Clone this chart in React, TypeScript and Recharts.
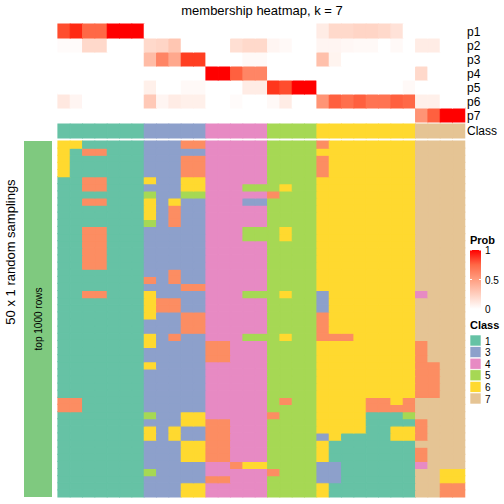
import { BarChart, Bar, XAxis, YAxis, Cell } from 'recharts';

// sample columns of the membership matrix
const samples = Array.from({ length: 33 }, (_, i) => `s${i + 1}`);

// consensus class of each sample (column)
const sampleClass = '1111111 33333 44444 5555 66666666 7777'.replace(/ /g, '');

// membership probabilities, one list per row
const p1 = [0.85, 0.95, 0.75, 0.75, 1, 1, 1, 0, 0, 0, 0, 0, 0, 0, 0, 0, 0, 0, 0, 0, 0, 0.1, 0.2, 0.2, 0.22, 0.22, 0.2, 0.15, 0, 0, 0, 0, 0];
const p2 = [0.02, 0.02, 0.2, 0.2, 0, 0, 0, 0.2, 0.22, 0.3, 0, 0, 0, 0, 0.17, 0.2, 0.2, 0.05, 0.03, 0, 0, 0.05, 0.05, 0.04, 0.03, 0.03, 0, 0.03, 0, 0.1, 0.1, 0, 0];
const p3 = [0, 0, 0, 0, 0, 0, 0, 0.35, 0.62, 0.45, 0.9, 0.9, 0, 0, 0, 0.03, 0.03, 0, 0, 0, 0, 0.33, 0.06, 0, 0, 0, 0, 0, 0, 0, 0, 0, 0];
const p4 = [0, 0, 0, 0, 0, 0, 0, 0, 0, 0, 0, 0, 1, 1, 0.78, 0.62, 0.62, 0, 0, 0, 0, 0, 0, 0, 0, 0, 0, 0, 0, 0.2, 0, 0, 0];
const p5 = [0, 0, 0, 0, 0, 0, 0, 0.08, 0, 0, 0.03, 0.03, 0, 0, 0, 0.1, 0.1, 0.92, 0.85, 1, 1, 0, 0, 0, 0, 0, 0, 0, 0.03, 0, 0, 0, 0];
const p6 = [0.12, 0.05, 0, 0, 0, 0, 0, 0.28, 0.05, 0.1, 0.08, 0.08, 0, 0, 0.02, 0, 0, 0.03, 0.1, 0, 0, 0.55, 0.78, 0.72, 0.78, 0.7, 0.7, 0.78, 0.75, 0.08, 0.08, 0, 0];
const p7 = [0, 0, 0, 0, 0, 0, 0, 0, 0, 0, 0, 0, 0, 0, 0, 0, 0, 0, 0, 0, 0, 0, 0, 0, 0, 0, 0, 0, 0, 0.55, 0.78, 1, 1];

const probRows = [
  { key: 'p1', values: p1 },
  { key: 'p2', values: p2 },
  { key: 'p3', values: p3 },
  { key: 'p4', values: p4 },
  { key: 'p5', values: p5 },
  { key: 'p6', values: p6 },
  { key: 'p7', values: p7 },
];

// class labels from the 50 random samplings (top row first)
const samplingRows = [
  '6611111 33322 44444 5555 26666666 7777',
  '6122111 33333 44444 5555 66666666 7777',
  '6111111 33322 44444 5555 26666666 7777',
  '6111111 33322 44444 5555 26666666 7777',
  '6111111 33322 44444 5555 26666666 7777',
  '1122111 63366 44444 5555 66666666 7777',
  '1122111 33366 44455 5655 66666666 7777',
  '1111111 53355 44444 2555 66666666 7777',
  '1122111 63633 44433 5555 66666666 7777',
  '1111111 63233 44444 5555 66666666 7777',
  '1111111 63233 44444 5555 66666666 7777',
  '1111111 53233 44444 5555 66666666 7777',
  '1122111 33333 44455 5655 66666666 7777',
  '1122111 33333 44455 5655 66666666 7777',
  '1122111 33333 44444 5555 66666666 7777',
  '1122111 33333 44444 5555 66666666 7777',
  '1122111 33333 44444 5555 66666666 7777',
  '1122111 33333 44444 5555 66666666 7777',
  '1111111 33233 44444 5555 66666666 7777',
  '1111111 23233 44444 5555 66666666 7777',
  '1111111 33322 44444 5555 66666666 7777',
  '1122111 63333 44455 5655 36666666 4777',
  '1111111 62233 44444 5555 36666666 7777',
  '1111111 62233 44444 5555 36666666 7777',
  '1111111 63322 44444 5555 26666666 7777',
  '1111111 33322 44444 5555 26666666 7777',
  '1111111 33322 44444 5555 26666666 7777',
  '1111111 63233 44455 5655 22266666 7777',
  '1111111 63333 22444 5555 66666666 2777',
  '1111111 33333 22444 5555 66666666 2777',
  '1111111 33333 22444 5555 66666666 2777',
  '1111111 63333 44444 5555 66666666 2277',
  '1111111 33333 44444 5555 66666666 2277',
  '1111111 33333 44444 5555 66666666 2277',
  '1111111 33333 44444 5555 66666666 2277',
  '1111111 33333 44444 5555 66666666 2277',
  '2211111 33333 44444 5255 66662262 7777',
  '2211111 33333 44444 5555 66662222 7777',
  '1111111 53366 44444 2555 66661115 7777',
  '1111111 33366 22444 5555 66661111 2777',
  '1111111 63633 22444 5555 66661166 2777',
  '1111111 63633 22444 5555 36111166 2777',
  '1111111 33366 22444 5555 61111111 7777',
  '1111111 33366 22444 5555 61111111 2777',
  '1111111 33366 22444 5555 61111111 2777',
  '1111111 33333 44266 5555 33111111 4777',
  '1111111 53333 44444 2555 33111111 7766',
  '1111111 33333 22444 5555 33111111 7766',
  '1111111 33366 44444 5555 61111111 7722',
  '1111111 33366 44444 5555 61111111 7722',
].map((s) => s.replace(/ /g, ''));

const legendClasses = ['1', '3', '4', '5', '6', '7'];
const probTicks = [1, 0.5, 0];

const classColors: Record<string, string> = {
  '1': '#66C2A5',
  '2': '#FC8D62',
  '3': '#8DA0CB',
  '4': '#E78AC3',
  '5': '#A6D854',
  '6': '#FFD92F',
  '7': '#E5C494',
};

const FONT = '"Liberation Sans", Arial, Helvetica, sans-serif';

// white -> red ramp interpolated in LAB space
const lin = (c: number) => {
  c /= 255;
  return c <= 0.04045 ? c / 12.92 : Math.pow((c + 0.055) / 1.055, 2.4);
};
const gam = (c: number) => {
  const v = c <= 0.0031308 ? 12.92 * c : 1.055 * Math.pow(c, 1 / 2.4) - 0.055;
  return Math.round(Math.max(0, Math.min(1, v)) * 255);
};
const labF = (t: number) => (t > 0.008856 ? Math.cbrt(t) : 7.787 * t + 16 / 116);
const rgbToLab = (r: number, g: number, b: number) => {
  const R = lin(r), G = lin(g), B = lin(b);
  const x = (0.4124 * R + 0.3576 * G + 0.1805 * B) / 0.95047;
  const y = 0.2126 * R + 0.7152 * G + 0.0722 * B;
  const z = (0.0193 * R + 0.1192 * G + 0.9505 * B) / 1.08883;
  return [116 * labF(y) - 16, 500 * (labF(x) - labF(y)), 200 * (labF(y) - labF(z))];
};
const labToRgb = (L: number, a: number, bb: number) => {
  const fy = (L + 16) / 116, fx = fy + a / 500, fz = fy - bb / 200;
  const inv = (t: number) => (t ** 3 > 0.008856 ? t ** 3 : (t - 16 / 116) / 7.787);
  const x = inv(fx) * 0.95047, y = inv(fy), z = inv(fz) * 1.08883;
  const R = 3.2406 * x - 1.5372 * y - 0.4986 * z;
  const G = -0.9689 * x + 1.8758 * y + 0.0415 * z;
  const B = 0.0557 * x - 0.204 * y + 1.057 * z;
  return `rgb(${gam(R)},${gam(G)},${gam(B)})`;
};
const WHITE = rgbToLab(255, 255, 255);
const RED = rgbToLab(255, 0, 0);
const probColor = (p: number) =>
  labToRgb(
    WHITE[0] + (RED[0] - WHITE[0]) * p,
    WHITE[1] + (RED[1] - WHITE[1]) * p,
    WHITE[2] + (RED[2] - WHITE[2]) * p
  );

// tables for the charts
const topData = samples.map((s) => {
  const row: Record<string, string | number> = { sample: s, cls: 1, gap: 1 / 7 };
  probRows.forEach((p) => (row[p.key] = 1));
  return row;
});

const bottomData = samples.map((s) => {
  const row: Record<string, string | number> = { sample: s };
  samplingRows.forEach((_, r) => (row[`r${r}`] = 1));
  return row;
});

const stackedBottom = samplingRows.map((_, r) => samplingRows.length - 1 - r);
const stackedProb = [...probRows].reverse();

// same-colour outline closes the sub-pixel seams between neighbouring cells
const SEAM = 1.2;

export default function App() {
  return (
    <div style={{ position: 'fixed', left: 0, top: 0, width: 504, height: 504, background: '#fff', fontFamily: FONT }}>
      {/* membership heatmap + class bar */}
      <div style={{ position: 'absolute', left: 0, top: 0 }}>
        <BarChart
          width={504}
          height={504}
          data={topData}
          margin={{ top: 24, right: 39, bottom: 366, left: 58 }}
          barCategoryGap={0}
          barGap={0}
        >
          <XAxis dataKey="sample" hide />
          <YAxis type="number" domain={[0, 8 + 1 / 7]} hide />
          <Bar dataKey="cls" stackId="t" isAnimationActive={false}>
            {samples.map((s, i) => {
              const c = classColors[sampleClass[i]];
              return <Cell key={s} fill={c} stroke={c} strokeWidth={SEAM} />;
            })}
          </Bar>
          <Bar dataKey="gap" stackId="t" fill="none" isAnimationActive={false} />
          {stackedProb.map((p) => (
            <Bar key={p.key} dataKey={p.key} stackId="t" isAnimationActive={false}>
              {p.values.map((v, i) => {
                const c = probColor(v);
                return <Cell key={i} fill={c} stroke={c} strokeWidth={SEAM} />;
              })}
            </Bar>
          ))}
        </BarChart>
      </div>

      {/* 50 x 1 random samplings */}
      <div style={{ position: 'absolute', left: 0, top: 0 }}>
        <BarChart
          width={504}
          height={504}
          data={bottomData}
          margin={{ top: 141, right: 39, bottom: 7, left: 58 }}
          barCategoryGap={0}
          barGap={0}
        >
          <XAxis dataKey="sample" hide />
          <YAxis type="number" domain={[0, samplingRows.length]} hide />
          {stackedBottom.map((r) => (
            <Bar key={r} dataKey={`r${r}`} stackId="b" isAnimationActive={false}>
              {samples.map((s, i) => {
                const c = classColors[samplingRows[r][i]];
                return <Cell key={s} fill={c} stroke={c} strokeWidth={SEAM} />;
              })}
            </Bar>
          ))}
        </BarChart>
      </div>

      <svg width={504} height={504} style={{ position: 'absolute', left: 0, top: 0, pointerEvents: 'none' }} fontFamily={FONT}>
        <defs>
          <linearGradient id="probGrad" x1="0" y1="0" x2="0" y2="1">
            {[1, 0.75, 0.5, 0.25, 0].map((p) => (
              <stop key={p} offset={`${(1 - p) * 100}%`} stopColor={probColor(p)} />
            ))}
          </linearGradient>
        </defs>
        <text x={262} y={15} fontSize={13} textAnchor="middle" fill="#000">
          membership heatmap, k = 7
        </text>

        {probRows.map((p, i) => (
          <text key={p.key} x={467} y={36 + i * 14} fontSize={12} fill="#000">
            {p.key}
          </text>
        ))}
        <text x={467} y={135} fontSize={12} fill="#000">
          Class
        </text>

        {/* left annotation */}
        <rect x={24} y={141} width={28} height={356} fill="#7FC97F" />
        <text transform="translate(42,319) rotate(-90)" fontSize={10} textAnchor="middle" fill="#000">
          top 1000 rows
        </text>
        <text transform="translate(15,252) rotate(-90)" fontSize={13} textAnchor="middle" fill="#000">
          50 x 1 random samplings
        </text>

        {/* Prob legend */}
        <text x={470} y={244} fontSize={11} fontWeight="bold" fill="#000">
          Prob
        </text>
        <rect x={470} y={250} width={11} height={59} fill="url(#probGrad)" />
        {probTicks.map((t) => {
          const y = 250 + (1 - t) * 59;
          return (
            <g key={t}>
              <line x1={470} x2={472} y1={y} y2={y} stroke="#fff" />
              <line x1={479} x2={481} y1={y} y2={y} stroke="#fff" />
              <text x={485} y={y + 4} fontSize={10} fill="#000">
                {t}
              </text>
            </g>
          );
        })}

        {/* Class legend */}
        <text x={470} y={329} fontSize={11} fontWeight="bold" fill="#000">
          Class
        </text>
        {legendClasses.map((c, i) => (
          <g key={c}>
            <rect x={470} y={335 + i * 11.6} width={11} height={11} fill={classColors[c]} stroke="#fff" strokeWidth={0.6} />
            <text x={485} y={344.5 + i * 11.6} fontSize={10} fill="#000">
              {c}
            </text>
          </g>
        ))}
      </svg>
    </div>
  );
}
